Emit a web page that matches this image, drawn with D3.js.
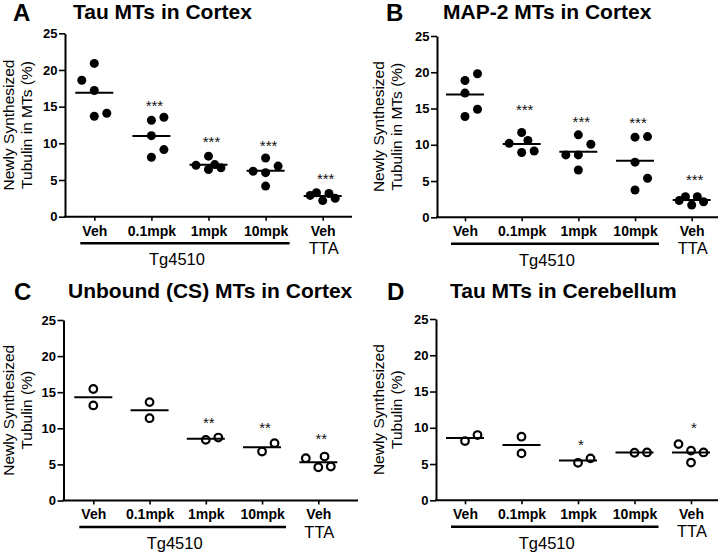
<!DOCTYPE html>
<html><head><meta charset="utf-8">
<script src="https://cdn.jsdelivr.net/npm/d3@7"></script>
<style>
html,body{margin:0;padding:0;background:#fff;}
svg{display:block;font-family:"Liberation Sans",Arial,sans-serif;}
</style></head>
<body>
<svg id="chart" width="720" height="553"></svg>
<script>
// ---------- data ----------
const categories = ["Veh", "0.1mpk", "1mpk", "10mpk", "Veh TTA"];
const categoryLabels = ["Veh", "0.1mpk", "1mpk", "10mpk", "Veh"];
const yTicks = [0, 5, 10, 15, 20, 25];
const groupLabel = "Tg4510";
const controlLabel = "TTA";

// Panel A: Tau MTs in Cortex (%), one array per group
const tauCortex = [
  [18.6, 20.9, 17.2, 13.7, 14.1],
  [13.15, 13.55, 11.05, 8.1, 9.15],
  [7.0, 8.25, 6.43, 7.1, 6.66],
  [6.2, 8.0, 6.0, 4.17, 6.9],
  [2.9, 3.26, 2.2, 3.17, 2.5]
];
const tauCortexCols = [[-1,0,0,0,1],[0,1,0,0,1],[-1,0,0,0.5,1],[-1,0,0,0,1],[-1,-0.5,0,0.5,1]];
const tauCortexStars = ["", "***", "***", "***", "***"];
const tauCortexStarLevel = [0, 15.6, 10.6, 10.15, 5.6];

// Panel B: MAP-2 MTs in Cortex (%)
const map2Cortex = [
  [18.87, 19.8, 17.13, 13.9, 14.9],
  [10.2, 11.7, 8.93, 10.6, 9.15],
  [8.6, 11.37, 8.6, 6.53, 10.08],
  [11.05, 11.13, 7.6, 5.38, 3.77],
  [2.3, 2.85, 1.7, 2.85, 2.15]
];
const map2CortexCols = [[0,1,0,0,1],[-1,0,0,0.5,1],[-1,0,0,0,1],[0,1,0,1,0],[-1,-0.5,0,0.45,0.95]];
const map2CortexStars = ["", "***", "***", "***", "***"];
const map2CortexStarLevel = [0, 15.28, 13.67, 13.44, 5.6];

// Panel C: Unbound (CS) MTs in Cortex (%)
const unboundCortex = [
  [15.44, 13.17],
  [13.63, 11.4],
  [8.4, 8.72],
  [6.78, 7.94],
  [5.86, 4.6, 6.09, 4.7]
];
const unboundCortexCols = [[0,0],[0,0],[0,1],[0,1],[-1,0,0.5,1]];
const unboundCortexStars = ["", "", "**", "**", "**"];
const unboundCortexStarLevel = [0, 0, 11.15, 10.46, 9.07];

// Panel D: Tau MTs in Cerebellum (%)
const tauCerebellum = [
  [8.17, 9.0],
  [8.77, 6.47],
  [5.17, 5.78],
  [6.56, 6.6],
  [7.75, 6.85, 5.2, 6.6]
];
const tauCerebellumCols = [[0,1],[0,0],[0,1],[0,1],[-1,0,0,1]];
const tauCerebellumStars = ["", "", "*", "", "*"];
const tauCerebellumStarLevel = [0, 0, 8.07, 0, 10.5];

// ---------- layout ----------
const panels = [
  {letter:"A", title:"Tau MTs in Cortex", ylab:["Newly Synthesized","Tubulin in MTs (%)"],
   values:tauCortex, cols:tauCortexCols, stars:tauCortexStars, starLevel:tauCortexStarLevel, filled:true,
   x0:65, xEnd:352, y0:216.7, yTop:33.3, c0:94.3, c4:322.7, letterX:13, titleX:73, titleY:19, ylabX:[-51,-33]},
  {letter:"B", title:"MAP-2 MTs in Cortex", ylab:["Newly Synthesized","Tubulin in MTs (%)"],
   values:map2Cortex, cols:map2CortexCols, stars:map2CortexStars, starLevel:map2CortexStarLevel, filled:true,
   x0:437, xEnd:718, y0:217.3, yTop:36, c0:465, c4:691.7, letterX:386, titleX:443, titleY:19, ylabX:[-53,-35]},
  {letter:"C", title:"Unbound (CS) MTs in Cortex", ylab:["Newly Synthesized","Tubulin (%)"],
   values:unboundCortex, cols:unboundCortexCols, stars:unboundCortexStars, starLevel:unboundCortexStarLevel, filled:false,
   x0:63.5, xEnd:358, y0:500.5, yTop:320, c0:93.3, c4:318.3, letterX:14, titleX:68, titleY:298, ylabX:[-49.5,-31.5]},
  {letter:"D", title:"Tau MTs in Cerebellum", ylab:["Newly Synthesized","Tubulin (%)"],
   values:tauCerebellum, cols:tauCerebellumCols, stars:tauCerebellumStars, starLevel:tauCerebellumStarLevel, filled:false,
   x0:436, xEnd:718, y0:500.3, yTop:319, c0:465, c4:691, letterX:387, titleX:450, titleY:298, ylabX:[-52,-34]}
];

const svg = d3.select("#chart");
const colStep = 12.5;

panels.forEach(p => {
  const g = svg.append("g");
  const y = d3.scaleLinear().domain([0, 25]).range([p.y0, p.yTop]);
  const x = d3.scalePoint().domain(categories).range([p.c0, p.c4]);

  // letter & title
  g.append("text").attr("x", p.letterX).attr("y", p.titleY + 2)
    .attr("font-size", 24).attr("font-weight", "bold").text(p.letter);
  g.append("text").attr("x", p.titleX).attr("y", p.titleY)
    .attr("font-size", 21).attr("font-weight", "bold").text(p.title);

  // y axis
  const ya = g.append("g").attr("transform", `translate(${p.x0},0)`)
    .call(d3.axisLeft(y).tickValues(yTicks).tickSize(6).tickSizeOuter(0).tickPadding(1.5));
  ya.select(".domain").attr("stroke-width", 2).attr("stroke", "#000");
  ya.selectAll(".tick line").attr("stroke-width", 1.6).attr("stroke", "#000");
  ya.selectAll(".tick text").attr("font-size", 13).attr("font-weight", "bold")
    .attr("font-family", '"Liberation Sans",Arial,sans-serif').attr("fill", "#000");

  // x axis
  g.append("line").attr("x1", p.x0 - 1).attr("x2", p.xEnd).attr("y1", p.y0).attr("y2", p.y0)
    .attr("stroke", "#000").attr("stroke-width", 2);
  const xa = g.append("g").attr("transform", `translate(0,${p.y0})`)
    .call(d3.axisBottom(x).tickSize(4).tickSizeOuter(0).tickPadding(5)
      .tickFormat((d, i) => categoryLabels[i]));
  xa.select(".domain").remove();
  xa.selectAll(".tick line").attr("stroke-width", 1.6).attr("stroke", "#000");
  xa.selectAll(".tick text").attr("font-size", 14).attr("font-weight", "bold")
    .attr("font-family", '"Liberation Sans",Arial,sans-serif').attr("fill", "#000");

  // group bracket + labels
  g.append("line").attr("x1", x(categories[0]) - 14).attr("x2", x(categories[3]) + 24)
    .attr("y1", p.y0 + 26.5).attr("y2", p.y0 + 26.5).attr("stroke", "#000").attr("stroke-width", 2.6);
  g.append("text").attr("x", (x(categories[0]) + x(categories[3])) / 2 - 3).attr("y", p.y0 + 48.5)
    .attr("text-anchor", "middle").attr("font-size", 16.5).text(groupLabel);
  g.append("text").attr("x", x(categories[4]) + 1).attr("y", p.y0 + 37)
    .attr("text-anchor", "middle").attr("font-size", 16.5).text(controlLabel);

  // y label
  const cy = (p.y0 + p.yTop) / 2;
  p.ylab.forEach((t, i) => {
    g.append("text").attr("transform", `translate(${p.x0 + p.ylabX[i]},${cy}) rotate(-90)`)
      .attr("text-anchor", "middle").attr("font-size", 15.5).text(t);
  });

  // points
  categories.forEach((c, gi) => {
    const vals = p.values[gi];
    const cx = x(c);
    const pts = vals.map((v, k) => ({v, dx: p.cols[gi][k]}));
    const sel = g.append("g").selectAll("circle").data(pts).enter().append("circle")
      .attr("cx", d => cx + d.dx * colStep)
      .attr("cy", d => y(d.v));
    if (p.filled) {
      sel.attr("r", 4.5).attr("fill", "#000");
    } else {
      sel.attr("r", 3.8).attr("fill", "none").attr("stroke", "#000").attr("stroke-width", 2.2);
    }
    // mean line
    const m = d3.mean(vals);
    g.append("line").attr("x1", cx - 19).attr("x2", cx + 19)
      .attr("y1", y(m)).attr("y2", y(m)).attr("stroke", "#000").attr("stroke-width", 2);
    // stars
    if (p.stars[gi]) {
      g.append("text").attr("x", cx + 3).attr("y", y(p.starLevel[gi]) + 8.5)
        .attr("text-anchor", "middle").attr("font-size", 15).attr("fill", "#111").text(p.stars[gi]);
    }
  });
});
</script>
</body></html>
